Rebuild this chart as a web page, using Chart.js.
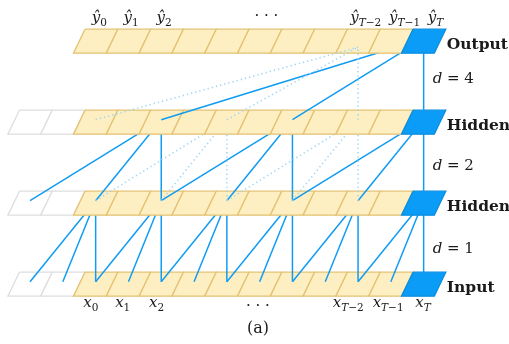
<!DOCTYPE html>
<html>
<head>
<meta charset="utf-8">
<script src="https://cdn.jsdelivr.net/npm/chart.js@4.4.1/dist/chart.umd.min.js"></script>
<style>
  html, body { margin: 0; padding: 0; background: #fff; }
  #wrap { width: 509px; height: 344px; position: relative; }
</style>
</head>
<body>
<div id="wrap"><canvas id="tcn"></canvas></div>
<script>
// rows, bottom to top
const rowNames = ['Input', 'Hidden', 'Hidden', 'Output'];
const rowPadding = [2, 2, 2, 0];   // zero padding cells left of x_0
const dilations = [1, 2, 4];        // between row i and row i + 1
const kernelTaps = [0, 1, 2];
const steps = 11;                   // x_0 ... x_T
const solidTargets = [10];          // y_T
const dottedTargets = [8];          // y_{T-2}

const inputLabelCols = [0, 1, 2, 8, 9, 10];
const inputLabelSubs = ['0', '1', '2', 'T−2', 'T−1', 'T'];
const outputLabelCols = [0, 1, 2, 8, 9, 10];
const outputLabelSubs = ['0', '1', '2', 'T−2', 'T−1', 'T'];
const caption = '(a)';

// layout (pixels per unit, skew of the cells, small label nudges)
const CELL_PX = 32.8;
const ROW_PX = 81;
const X_MIN = -85 / CELL_PX;
const X_MAX = X_MIN + 509 / CELL_PX;
const Y_MAX = 284.2 / ROW_PX;
const Y_MIN = Y_MAX - 344 / ROW_PX;
const SKEW = 11.5 / CELL_PX;
const HALF_H = 12 / ROW_PX;
const NODE_LIFT = 2.5 / ROW_PX;
const DOT_END_DROP = 6 / ROW_PX;
const topNudge = [-2, -3, -3, 2, 8, 6];
const bottomNudge = [1, 0, 1, -4, 3, 5];
const dNudge = [4, 2, -4];

const YELLOW = '#fdefc2';
const YELLOW_EDGE = '#e4c272';
const BLUE = '#0a9cf6';
const BLUE_EDGE = '#0a8ddf';
const PAD_EDGE = '#dedede';
const LINE = '#109cf2';
const DOT = '#9fd7f5';
const INK = '#1a1a1a';

const edgeKey = (e) => e.row + ':' + e.from + ':' + e.to;

function collectEdges(targets) {
  const edges = [];
  const seen = new Set();
  function visit(row, col) {
    if (row === 0) return;
    const d = dilations[row - 1];
    const srcs = kernelTaps.map((k) => col - k * d);
    if (srcs.some((s) => s < -rowPadding[row - 1])) return;
    srcs.forEach((s) => {
      const e = { row, from: s, to: col };
      if (!seen.has(edgeKey(e))) {
        seen.add(edgeKey(e));
        edges.push(e);
      }
      visit(row - 1, s);
    });
  }
  targets.forEach((c) => visit(rowNames.length - 1, c));
  return edges;
}

const solidEdges = collectEdges(solidTargets);
const solidKeys = new Set(solidEdges.map(edgeKey));
const dottedEdges = collectEdges(dottedTargets).filter((e) => !solidKeys.has(edgeKey(e)));

const nodeX = (c) => c + 0.5 - SKEW / 2;
const datasets = [];

function addCell(row, col) {
  let fill = YELLOW;
  let edge = YELLOW_EDGE;
  if (col < 0) { fill = '#ffffff'; edge = PAD_EDGE; }
  if (col === steps - 1) { fill = BLUE; edge = BLUE_EDGE; }
  const top = row + HALF_H;
  const bot = row - HALF_H;
  datasets.push({
    data: [
      { x: col, y: top },
      { x: col + 1, y: top },
      { x: col + 1 - SKEW, y: bot },
      { x: col - SKEW, y: bot },
      { x: col, y: top },
    ],
    showLine: true,
    fill: 'shape',
    backgroundColor: fill,
    borderColor: edge,
    borderWidth: 1.3,
    borderJoinStyle: 'miter',
    pointRadius: 0,
    tension: 0,
  });
}

function addEdge(e, dotted, onTop) {
  const y1 = onTop ? e.row - DOT_END_DROP : e.row + NODE_LIFT;
  datasets.push({
    data: [
      { x: nodeX(e.from), y: e.row - 1 + NODE_LIFT },
      { x: nodeX(e.to), y: y1 },
    ],
    showLine: true,
    fill: false,
    borderColor: dotted ? DOT : LINE,
    borderWidth: dotted ? 1.6 : 1.5,
    borderDash: dotted ? [1.3, 3] : [],
    pointRadius: 0,
    tension: 0,
  });
}

const topRow = rowNames.length - 1;
for (let r = 0; r < rowNames.length; r++) {
  for (let c = -rowPadding[r]; c < steps; c++) addCell(r, c);
  if (r < topRow) {
    solidEdges.filter((e) => e.row === r + 1).forEach((e) => addEdge(e, false, false));
    if (r + 1 < topRow) {
      dottedEdges.filter((e) => e.row === r + 1).forEach((e) => addEdge(e, true, false));
    }
  }
}
dottedEdges.filter((e) => e.row === topRow).forEach((e) => addEdge(e, true, true));

// first pushed = drawn first
datasets.forEach((ds, i) => { ds.order = -i; });

function drawMath(ctx, base, sub, cx, baseline) {
  const baseFont = 'italic 15px "DejaVu Serif"';
  const subItalic = 'italic 10.5px "DejaVu Serif"';
  const subRoman = '10.5px "DejaVu Serif"';
  const parts = [];
  if (sub.startsWith('T')) {
    parts.push({ t: 'T', font: subItalic });
    if (sub.length > 1) parts.push({ t: sub.slice(1), font: subRoman });
  } else {
    parts.push({ t: sub, font: subRoman });
  }
  ctx.font = baseFont;
  const wb = ctx.measureText(base).width;
  let total = wb;
  parts.forEach((p) => {
    ctx.font = p.font;
    p.w = ctx.measureText(p.t).width;
    total += p.w;
  });
  let x = cx - total / 2;
  ctx.font = baseFont;
  ctx.fillText(base, x, baseline);
  x += wb;
  parts.forEach((p) => {
    ctx.font = p.font;
    ctx.fillText(p.t, x, baseline + 3.5);
    x += p.w;
  });
}

const textPlugin = {
  id: 'diagramText',
  afterDatasetsDraw(chart) {
    const { ctx } = chart;
    const xs = chart.scales.x;
    const ys = chart.scales.y;
    ctx.save();
    ctx.fillStyle = INK;
    ctx.textAlign = 'left';
    ctx.textBaseline = 'alphabetic';

    // y-hat labels above the output row
    const outTop = ys.getPixelForValue(topRow + HALF_H);
    outputLabelCols.forEach((c, i) => {
      drawMath(ctx, 'ŷ', outputLabelSubs[i], xs.getPixelForValue(c + 0.5) + topNudge[i], outTop - 7);
    });
    // x labels below the input row
    const inBot = ys.getPixelForValue(-HALF_H);
    inputLabelCols.forEach((c, i) => {
      drawMath(ctx, 'x', inputLabelSubs[i], xs.getPixelForValue(c + 0.5 - SKEW) + bottomNudge[i], inBot + 11);
    });

    ctx.font = '15px "DejaVu Serif"';
    ctx.textAlign = 'center';
    ctx.fillText('· · ·', xs.getPixelForValue(5.5) + 1, outTop - 9);
    ctx.fillText('· · ·', xs.getPixelForValue(5.5 - SKEW) + 4, inBot + 14);

    // row names right of the last cell
    ctx.textAlign = 'left';
    ctx.font = 'bold 15.5px "DejaVu Serif"';
    const nameX = xs.getPixelForValue(steps) + 1;
    rowNames.forEach((name, r) => {
      ctx.fillText(name, nameX, ys.getPixelForValue(r) + 7.5);
    });

    // dilation labels between rows
    const dX = xs.getPixelForValue(nodeX(steps - 1)) + 9;
    dilations.forEach((d, i) => {
      const mid = ys.getPixelForValue(i + 0.5) + 5 + dNudge[i];
      ctx.font = 'italic 15px "DejaVu Serif"';
      ctx.fillText('d', dX, mid);
      const w = ctx.measureText('d').width;
      ctx.font = '15px "DejaVu Serif"';
      ctx.fillText(' = ' + d, dX + w, mid);
    });

    ctx.textAlign = 'center';
    ctx.font = '16px "DejaVu Serif"';
    ctx.fillText(caption, 258, chart.height - 11);
    ctx.restore();
  },
};

new Chart(document.getElementById('tcn'), {
  type: 'scatter',
  data: { datasets },
  options: {
    responsive: true,
    maintainAspectRatio: false,
    animation: false,
    events: [],
    layout: { padding: 0 },
    plugins: {
      legend: { display: false },
      tooltip: { enabled: false },
    },
    scales: {
      x: { type: 'linear', display: false, min: X_MIN, max: X_MAX },
      y: { type: 'linear', display: false, min: Y_MIN, max: Y_MAX },
    },
  },
  plugins: [textPlugin],
});
</script>
</body>
</html>
